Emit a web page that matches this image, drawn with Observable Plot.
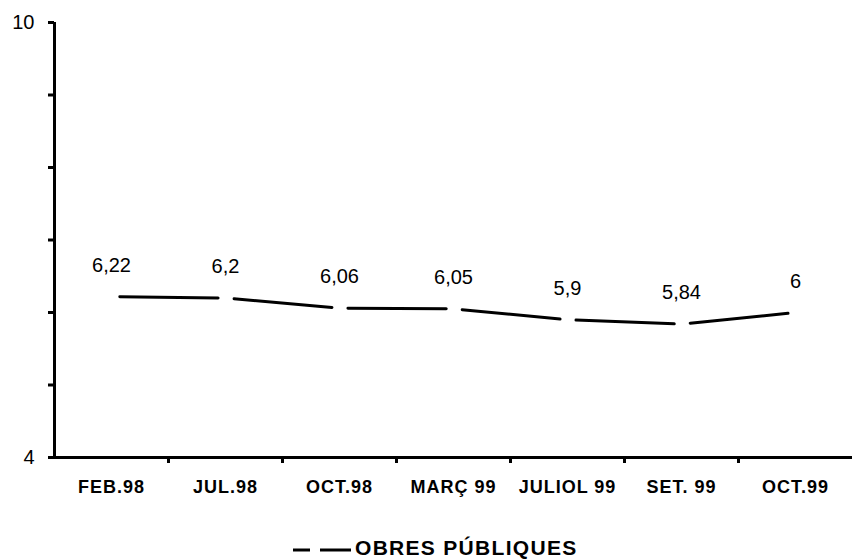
<!DOCTYPE html>
<html>
<head>
<meta charset="utf-8">
<script src="https://cdn.jsdelivr.net/npm/d3@7"></script>
<script src="https://cdn.jsdelivr.net/npm/@observablehq/plot@0.6"></script>
<style>
  html, body { margin: 0; padding: 0; background: #fff; }
  #wrap { position: relative; width: 852px; height: 560px; font-family: "Liberation Sans", Arial, Helvetica, sans-serif; }
  g[aria-label="x-axis tick label"] text { letter-spacing: 1px; }
  #legend { position: absolute; left: 293px; top: 537px; height: 22px; display: flex; align-items: center;
            font-size: 21px; font-weight: bold; letter-spacing: 1.3px; color: #000; }
  #legend svg { margin-right: 2px; }
</style>
</head>
<body>
<div id="wrap"></div>
<script>
const categories = ["FEB.98", "JUL.98", "OCT.98", "MARÇ 99", "JULIOL 99", "SET. 99", "OCT.99"];
const values = [6.22, 6.2, 6.06, 6.05, 5.9, 5.84, 6];
const valueLabels = ["6,22", "6,2", "6,06", "6,05", "5,9", "5,84", "6"];
const yTicks = [4, 5, 6, 7, 8, 9, 10];
const yTickLabels = ["4", "", "", "", "", "", "10"];
const seriesName = "OBRES PÚBLIQUES";

const data = categories.map((c, i) => ({i, c, v: values[i], label: valueLabels[i]}));
const idx = d3.range(categories.length);
const bounds = d3.range(1, categories.length).map(i => i - 0.5);

const chart = Plot.plot({
  width: 852,
  height: 515,
  marginLeft: 54,
  marginRight: 0,
  marginTop: 22,
  marginBottom: 58,
  x: {domain: [-0.5, categories.length - 0.5], axis: null},
  y: {domain: [4, 10], axis: null},
  style: {fontFamily: "'Liberation Sans', Arial, Helvetica, sans-serif", background: "white", color: "black"},
  marks: [
    Plot.axisY(yTicks, {anchor: "left", label: null, tickSize: 6, tickPadding: 14, strokeWidth: 3,
      tickFormat: d => yTickLabels[yTicks.indexOf(d)], fontSize: 20}),
    Plot.axisX(idx, {anchor: "bottom", label: null, tickSize: 0, tickPadding: 23,
      tickFormat: i => categories[i], fontSize: 18, fontWeight: "bold"}),
    Plot.axisX(bounds, {anchor: "bottom", label: null, tickSize: 6, strokeWidth: 3, tickFormat: () => "", ariaLabel: "x-bounds"}),
    Plot.ruleX([-0.5], {stroke: "black", strokeWidth: 3}),
    Plot.ruleY([4], {stroke: "black", strokeWidth: 3}),
    Plot.line(data, {x: "i", y: "v", stroke: "black", strokeWidth: 3,
      strokeDasharray: "98.3,16", strokeDashoffset: 106}),
    Plot.text(data, {x: "i", y: "v", text: "label", dy: -25, lineAnchor: "bottom", fontSize: 20, fill: "black"})
  ]
});

const wrap = document.getElementById("wrap");
wrap.appendChild(chart);

const legend = document.createElement("div");
legend.id = "legend";
legend.innerHTML = `<svg width="60" height="22"><line x1="0" x2="17" y1="13" y2="13" stroke="black" stroke-width="3"/><line x1="27" x2="58" y1="13" y2="13" stroke="black" stroke-width="3"/></svg><span>${seriesName}</span>`;
wrap.appendChild(legend);
</script>
</body>
</html>
